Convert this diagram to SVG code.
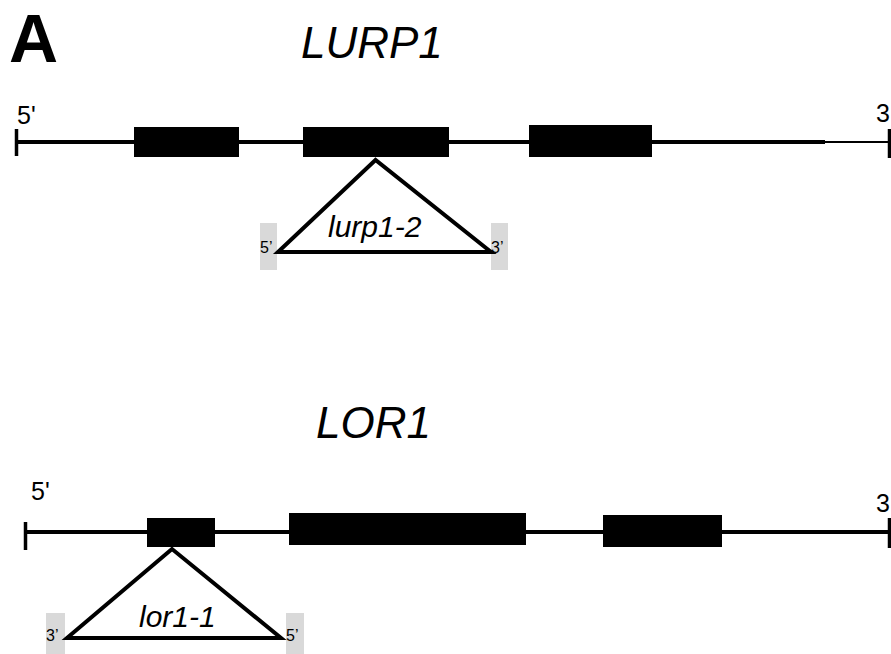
<svg xmlns="http://www.w3.org/2000/svg" width="891" height="654" viewBox="0 0 891 654">
  <style>
    text { font-family: "Liberation Sans", Arial, sans-serif; fill: #000; }
    .gene { font-size: 44px; font-style: italic; }
    .end { font-size: 25px; }
    .small { font-size: 16px; }
    .allele { font-size: 30px; font-style: italic; }
    .intron { stroke: #000; stroke-width: 4; fill: none; }
    .thin { stroke: #000; stroke-width: 2; fill: none; }
    .tick { stroke: #000; stroke-width: 3.5; }
    .exon { fill: #000; }
    .ins { fill: #fff; stroke: #000; stroke-width: 4; stroke-linejoin: miter; }
    .pad { fill: #d9d9d9; }
  </style>
  <rect width="891" height="654" fill="#fff"/>
  <text x="9" y="62" font-size="68" font-weight="bold">A</text>

  <!-- LURP1 locus -->
  <g id="lurp1">
    <text class="gene" x="301" y="58">LURP1</text>
    <text class="end" x="17" y="124">5'</text>
    <text class="end" x="876" y="122">3</text>
    <line class="intron" x1="16" y1="142" x2="825" y2="142"/>
    <line class="thin" x1="825" y1="142" x2="890" y2="142"/>
    <line class="tick" x1="16.5" y1="129" x2="16.5" y2="156"/>
    <line class="tick" x1="889.5" y1="129" x2="889.5" y2="158"/>
    <rect class="exon" x="134" y="127" width="105" height="30"/>
    <rect class="exon" x="303" y="127" width="146" height="30"/>
    <rect class="exon" x="529" y="125" width="123" height="32"/>
  </g>
  <g id="lurp1-2">
    <rect class="pad" x="260" y="223" width="17" height="47"/>
    <rect class="pad" x="491" y="223" width="17" height="47"/>
    <polygon class="ins" points="375.5,160 278,252 491,252"/>
    <text class="allele" x="328" y="237">lurp1-2</text>
    <text class="small" x="260" y="253">5’</text>
    <text class="small" x="491" y="253">3’</text>
  </g>

  <!-- LOR1 locus -->
  <g id="lor1">
    <text class="gene" x="316" y="438">LOR1</text>
    <text class="end" x="31" y="500">5'</text>
    <text class="end" x="876" y="512">3</text>
    <line class="intron" x1="25" y1="532" x2="890" y2="532"/>
    <line class="tick" x1="25.5" y1="522" x2="25.5" y2="550"/>
    <line class="tick" x1="889.5" y1="518" x2="889.5" y2="548"/>
    <rect class="exon" x="147" y="518" width="68" height="29"/>
    <rect class="exon" x="289" y="513" width="237" height="32"/>
    <rect class="exon" x="603" y="515" width="119" height="32"/>
  </g>
  <g id="lor1-1">
    <rect class="pad" x="46" y="613" width="19" height="41"/>
    <rect class="pad" x="286" y="613" width="18" height="41"/>
    <polygon class="ins" points="172,549 67,638 281,638"/>
    <text class="allele" x="139" y="627">lor1-1</text>
    <text class="small" x="46" y="641">3’</text>
    <text class="small" x="286" y="641">5’</text>
  </g>
</svg>
